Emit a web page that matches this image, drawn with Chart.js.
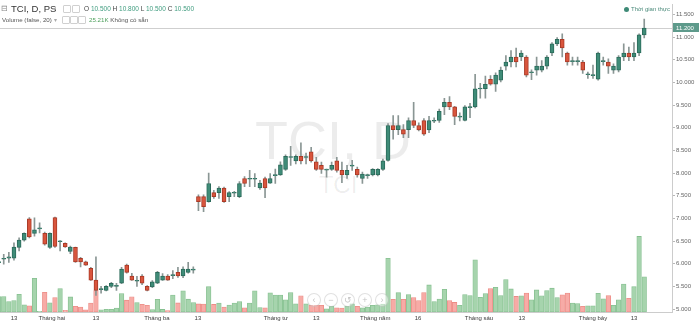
<!DOCTYPE html>
<html><head><meta charset="utf-8">
<script src="https://cdn.jsdelivr.net/npm/chart.js@4.4.1/dist/chart.umd.min.js"></script>
<style>
html,body{margin:0;padding:0;background:#fff;}
#wrap{position:relative;width:700px;height:324px;overflow:hidden;font-family:"Liberation Sans",Arial,sans-serif;}
#c{position:absolute;left:0;top:0;z-index:1;}
.wm{position:absolute;z-index:0;color:rgba(0,0,0,0.075);white-space:nowrap;line-height:1;}
.hd{position:absolute;z-index:2;white-space:nowrap;line-height:1;}
.g{color:#3f9c7f;}
.box{position:absolute;z-index:2;width:6px;height:6px;border:1px solid #d0d0d0;border-radius:1px;}
.nav{position:absolute;z-index:2;width:12px;height:12px;border:1px solid rgba(0,0,0,0.12);border-radius:50%;background:rgba(255,255,255,0.45);color:rgba(0,0,0,0.25);font-size:9px;line-height:12px;text-align:center;}
</style></head>
<body>
<div id="wrap">
  <div class="wm" style="left:0;width:666px;text-align:center;top:113px;font-size:54px;">TCI, D</div>
  <div class="wm" style="left:0;width:676px;text-align:center;top:173px;font-size:24px;">TCI</div>
  <canvas id="c" width="700" height="324"></canvas>
  <div class="hd" style="left:1px;top:5px;font-size:7.5px;color:#888;">⊟</div>
  <div class="hd" style="left:11px;top:4px;font-size:9.5px;color:#333;">TCI, D, PS</div>
  <div class="hd" style="left:53px;top:6px;font-size:6px;color:#aaa;">▾</div>
  <div class="box" style="left:63px;top:5px;"></div>
  <div class="box" style="left:72px;top:5px;"></div>
  <div class="hd" style="left:84px;top:6px;font-size:6.5px;color:#444;">O <span class="g">10.500</span> H <span class="g">10.800</span> L <span class="g">10.500</span> C <span class="g">10.500</span></div>
  <div class="hd" style="left:2px;top:17px;font-size:6.2px;color:#555;">Volume (false, 20) <span style="color:#aaa">▾</span></div>
  <div class="box" style="left:62px;top:16px;"></div>
  <div class="box" style="left:70px;top:16px;"></div>
  <div class="box" style="left:78px;top:16px;"></div>
  <div class="hd" style="left:89px;top:17px;font-size:6.2px;color:#555;"><span style="color:#4fa15d">25.21K</span> Không có sẵn</div>
  <div class="hd" style="left:624px;top:7px;width:5px;height:5px;border-radius:50%;background:#3e8a76;"></div>
  <div class="hd" style="left:631px;top:6px;font-size:6px;color:#4a8a7a;">Thời gian thực</div>
  <div class="nav" style="left:307px;top:293px;">‹</div>
  <div class="nav" style="left:324px;top:293px;">−</div>
  <div class="nav" style="left:341px;top:293px;">↺</div>
  <div class="nav" style="left:358px;top:293px;">+</div>
  <div class="nav" style="left:375px;top:293px;">›</div>
</div>
<script>
// ---- data (prices in thousand VND, volume in thousand shares) ----
const openP = [6.03,6.10,6.12,6.12,6.36,6.52,6.99,6.67,6.77,6.67,6.36,7.02,6.49,6.45,6.27,6.36,6.12,6.04,5.90,5.64,
5.43,5.41,5.50,5.50,5.57,5.97,5.73,5.62,5.73,5.50,5.49,5.57,5.64,5.73,5.74,5.81,5.73,5.81,5.86,7.48,
7.48,7.37,7.57,7.57,7.67,7.48,7.56,7.48,7.88,7.87,7.87,7.67,7.88,7.78,7.95,7.96,8.08,8.35,8.27,8.37,
8.35,8.47,8.25,8.17,8.07,8.08,8.27,8.06,7.96,8.16,8.08,7.88,7.95,7.96,7.96,8.08,8.28,9.05,8.96,8.96,
8.96,9.16,9.05,9.16,8.95,9.15,9.16,9.46,9.56,9.46,9.24,9.16,9.45,9.46,9.86,9.86,10.07,9.96,10.05,10.36,
10.45,10.56,10.56,10.56,10.22,10.27,10.27,10.36,10.65,10.85,10.95,10.65,10.47,10.47,10.45,10.18,10.16,10.07,10.47,10.45,
10.27,10.27,10.56,10.65,10.56,10.65,11.05];
const highP = [6.10,6.21,6.25,6.46,6.57,6.68,7.02,7.01,6.90,6.70,6.68,7.03,6.51,6.46,6.39,6.37,6.14,6.06,5.92,6.15,
5.50,5.52,5.59,5.57,5.92,5.99,5.79,5.72,5.76,5.52,5.63,5.83,5.78,5.76,5.85,5.92,5.93,6.03,5.93,7.52,
7.52,8.00,7.62,7.70,7.69,7.59,7.60,7.81,7.92,8.06,7.99,7.84,7.91,7.99,8.09,8.25,8.40,8.59,8.40,8.67,
8.44,8.57,8.35,8.24,8.09,8.24,8.35,8.24,8.17,8.28,8.13,8.02,7.98,8.10,8.10,8.31,9.09,9.27,9.27,9.07,
9.22,9.56,9.11,9.20,9.25,9.22,9.41,9.65,9.69,9.47,9.33,9.49,9.54,10.18,9.98,10.14,10.15,10.21,10.34,10.59,
10.70,10.76,10.70,10.59,10.28,10.56,10.48,10.59,10.88,10.99,11.07,10.67,10.56,10.56,10.49,10.23,10.38,10.67,10.56,10.52,
10.41,10.59,10.85,10.78,10.88,11.07,11.40];
const lowP = [5.98,5.99,6.03,6.08,6.28,6.50,6.57,6.61,6.68,6.41,6.34,6.36,6.28,6.36,6.22,6.03,5.93,5.96,5.63,5.30,
5.35,5.40,5.47,5.41,5.56,5.79,5.63,5.50,5.54,5.40,5.47,5.56,5.63,5.63,5.67,5.70,5.69,5.79,5.79,7.17,
7.15,7.36,7.44,7.44,7.35,7.37,7.48,7.46,7.70,7.70,7.70,7.64,7.46,7.77,7.77,7.95,8.06,8.17,8.20,8.20,
8.20,8.24,8.06,7.99,7.91,8.06,8.02,7.79,7.88,8.06,7.91,7.77,7.88,7.94,7.94,8.06,8.26,8.75,8.85,8.78,
8.78,9.00,8.93,8.83,8.89,9.11,9.12,9.29,9.40,9.07,9.15,9.15,9.22,9.44,9.65,9.65,9.94,9.80,10.01,10.27,
10.34,10.34,10.48,10.12,10.06,10.16,10.23,10.30,10.59,10.81,10.56,10.38,10.38,10.38,10.20,10.09,10.09,10.05,10.38,10.20,
10.20,10.23,10.48,10.48,10.48,10.59,10.98];
const closeP = [6.04,6.12,6.15,6.37,6.52,6.67,6.59,6.75,6.79,6.43,6.67,6.38,6.50,6.37,6.37,6.04,6.04,5.97,5.64,5.41,
5.45,5.50,5.57,5.52,5.88,5.81,5.64,5.63,5.57,5.41,5.60,5.81,5.73,5.64,5.76,5.73,5.88,5.88,5.88,7.37,
7.26,7.77,7.48,7.67,7.37,7.57,7.57,7.77,7.77,7.88,7.88,7.78,7.67,7.88,7.96,8.18,8.37,8.36,8.37,8.27,
8.36,8.27,8.08,8.08,8.08,8.17,8.06,7.96,8.06,8.17,7.96,7.98,7.96,8.08,8.08,8.27,9.05,8.96,9.05,8.86,
9.16,9.05,8.95,8.86,9.16,9.16,9.36,9.56,9.46,9.25,9.25,9.46,9.46,9.86,9.87,9.96,9.96,10.16,10.27,10.45,
10.56,10.45,10.65,10.16,10.23,10.36,10.36,10.56,10.85,10.95,10.76,10.45,10.47,10.47,10.27,10.18,10.16,10.65,10.47,10.36,
10.36,10.56,10.65,10.56,10.65,11.05,11.20];
const volumeK = [157,157,107,117,180,73,63,343,8,200,93,147,237,17,153,57,50,23,90,217,
23,27,27,40,187,120,155,95,78,67,25,128,26,15,173,92,215,130,96,82,
80,257,77,90,50,70,90,107,43,90,215,45,43,195,173,173,123,197,83,165,
83,67,67,67,33,57,43,40,57,83,57,43,50,67,73,80,545,128,196,128,
177,147,117,197,275,107,132,230,117,97,67,177,167,530,150,187,237,250,167,330,
234,158,164,192,124,224,165,217,242,147,175,192,90,86,57,62,62,190,134,167,
67,124,284,140,257,767,357];
// x-axis tick labels (candle index position, text)
const tickPos  = [3, 10.4, 19, 30.9, 38.9, 54.1, 62, 73.5, 81.85, 93.76, 102.1, 116, 124];
const tickText = ['13','Tháng hai','13','Tháng ba','13','Tháng tư','13','Tháng năm','16','Tháng sáu','13','Tháng bảy','13'];
// price axis ticks
const priceTicks = [5.0,5.5,6.0,6.5,7.0,7.5,8.0,8.5,9.0,9.5,10.0,10.5,11.0,11.5];

// ---- styling ----
const UP = '#3f8c78', UPB = '#2c6b5b', DN = '#d9553d', DNB = '#a93a27';
const WICK = '#8a9694';
const VUP = '#a6d4ad', VUPB = '#86c090', VDN = '#f7aba6', VDNB = '#ec8c86';
const idx = openP.map((_, i) => i);
const isUp = i => closeP[i] >= openP[i];
function bodyRange(i){
  const o = openP[i], c = closeP[i];
  if (Math.abs(o - c) < 0.02){ const m = (o + c) / 2; return [m - 0.011, m + 0.011]; }
  return [Math.min(o, c), Math.max(o, c)];
}

const lastLine = {
  id: 'lastLine',
  beforeDatasetsDraw(chart){
    const {ctx, chartArea: a, scales: {y}} = chart;
    const py = Math.round(y.getPixelForValue(closeP[closeP.length - 1])) + 0.5;
    ctx.save();
    ctx.strokeStyle = '#cfcfcf'; ctx.lineWidth = 1;
    ctx.beginPath(); ctx.moveTo(a.left, py); ctx.lineTo(a.right, py); ctx.stroke();
    ctx.restore();
  },
  afterDraw(chart){
    const {ctx, chartArea: a, scales: {y}} = chart;
    const last = closeP[closeP.length - 1];
    const py = Math.round(y.getPixelForValue(last));
    ctx.save();
    ctx.fillStyle = '#5e9a8b';
    ctx.fillRect(a.right + 1, py - 5, 26, 9);
    ctx.fillStyle = '#ffffff';
    ctx.font = '6px "Liberation Sans", Arial, sans-serif';
    ctx.textBaseline = 'middle';
    ctx.fillText(last.toFixed(3), a.right + 4, py);
    ctx.restore();
  }
};

new Chart(document.getElementById('c'), {
  type: 'bar',
  data: {
    datasets: [
      { label: 'body', data: idx.map(i => ({x: i, y: bodyRange(i)})), yAxisID: 'y',
        barThickness: 4, borderWidth: 1, borderSkipped: false, order: 1,
        backgroundColor: c => isUp(c.dataIndex) ? UP : DN,
        borderColor: c => isUp(c.dataIndex) ? UPB : DNB },
      { label: 'wick', data: idx.map(i => ({x: i, y: [lowP[i], highP[i]]})), yAxisID: 'y',
        barThickness: 1, borderWidth: 0, order: 2, backgroundColor: WICK },
      { label: 'volume', data: idx.map(i => ({x: i, y: volumeK[i]})), yAxisID: 'yv',
        barThickness: 4.6, borderWidth: 0.8, borderSkipped: false, order: 3,
        backgroundColor: c => isUp(c.dataIndex) ? VUP : VDN,
        borderColor: c => isUp(c.dataIndex) ? VUPB : VDNB }
    ]
  },
  options: {
    responsive: false, animation: false, devicePixelRatio: 1,
    datasets: { bar: { grouped: false } },
    layout: { padding: 0 },
    plugins: { legend: { display: false }, tooltip: { enabled: false } },
    scales: {
      x: { type: 'linear', min: 0.273, max: 131.42, offset: false,
        afterBuildTicks: s => { s.ticks = tickPos.map(v => ({value: v})); },
        ticks: { autoSkip: false, maxRotation: 0, padding: 3, color: '#3a3a3a',
          font: { size: 6, family: '"Liberation Sans", Arial, sans-serif' },
          callback: (v, i) => tickText[i] },
        grid: { display: false, drawTicks: false, offset: false },
        border: { display: true, color: '#cccccc' },
        afterFit: s => { s.height = 12; } },
      y: { position: 'right', min: 4.935, max: 11.717,
        afterBuildTicks: s => { s.ticks = priceTicks.map(v => ({value: v})); },
        ticks: { padding: 1, color: '#666666',
          font: { size: 6, family: '"Liberation Sans", Arial, sans-serif' },
          callback: v => Number(v).toFixed(3) },
        grid: { drawOnChartArea: false, drawTicks: true, tickLength: 3, color: '#b8b8b8' },
        border: { display: true, color: '#cccccc' },
        afterFit: s => { s.width = 28; } },
      yv: { display: false, min: 0, max: 3120 }
    }
  },
  plugins: [lastLine]
});
</script>
</body></html>
